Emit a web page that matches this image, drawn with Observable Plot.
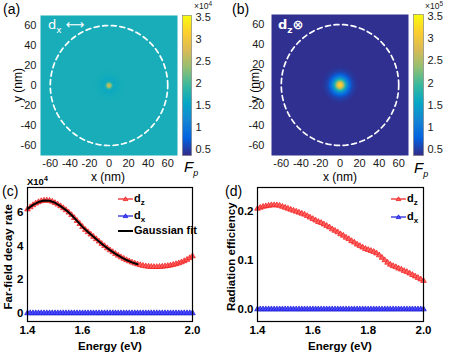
<!DOCTYPE html>
<html><head><meta charset="utf-8">
<script src="https://cdn.jsdelivr.net/npm/d3@7"></script>
<script src="https://cdn.jsdelivr.net/npm/@observablehq/plot@0.6"></script>
<style>
body{margin:0;background:#fff;}
#fig{position:relative;width:449px;height:354px;overflow:hidden;font-family:"Liberation Sans",Arial,sans-serif;color:#000;}
#fig svg{position:absolute;overflow:visible;}
.t{position:absolute;white-space:nowrap;line-height:1;}
.b{font-weight:bold;}
sub,sup{line-height:0;}
</style></head><body><div id="fig"></div>
<script>
// ---------- data ----------
// (a),(b) radial profiles of Purcell factor Fp read from the maps (radius in nm)
const profARadius = [0, 1.5, 3, 4, 6, 9, 12, 15, 70];
const profAValue  = [2.75, 2.6, 2.0, 1.65, 1.6, 1.65, 1.68, 1.7, 1.7];      // x10^4
const profBRadius = [0, 2, 4, 6, 8, 10, 12, 14, 17, 20, 70];
const profBValue  = [3.35, 3.05, 2.35, 1.6, 1.1, 0.8, 0.6, 0.5, 0.43, 0.4, 0.4]; // x10^5
const dashedRadius = 60;
const mapTicks = [-60, -40, -20, 0, 20, 40, 60];
const cbTicks = [0.5, 1, 1.5, 2, 2.5, 3, 3.5];
const cbDomain = [0.36, 3.55];

// (c),(d) spectra
const energy = [1.40,1.41,1.42,1.43,1.44,1.45,1.46,1.47,1.48,1.49,1.50,1.51,1.52,1.53,1.54,1.55,1.56,1.57,1.58,1.59,1.60,1.61,1.62,1.63,1.64,1.65,1.66,1.67,1.68,1.69,1.70,1.71,1.72,1.73,1.74,1.75,1.76,1.77,1.78,1.79,1.80,1.81,1.82,1.83,1.84,1.85,1.86,1.87,1.88,1.89,1.90,1.91,1.92,1.93,1.94,1.95,1.96,1.97,1.98,1.99,2.00];
const dzRate = [6.20,6.33,6.45,6.55,6.63,6.69,6.72,6.73,6.71,6.66,6.58,6.49,6.39,6.27,6.15,6.01,5.86,5.69,5.51,5.33,5.15,4.98,4.84,4.70,4.56,4.42,4.28,4.14,4.01,3.88,3.76,3.65,3.54,3.44,3.34,3.25,3.17,3.10,3.03,2.97,2.92,2.87,2.83,2.80,2.78,2.77,2.76,2.76,2.77,2.78,2.80,2.82,2.85,2.89,2.93,2.98,3.04,3.11,3.19,3.29,3.40]; // x10^4
const dxRate = [0,0,0,0,0,0,0,0,0,0,0,0,0,0,0,0,0,0,0,0,0,0,0,0,0,0,0,0,0,0,0,0,0,0,0,0,0,0,0,0,0,0,0,0,0,0,0,0,0,0,0,0,0,0,0,0,0,0,0,0,0];
const fitEnergy = [1.40,1.42,1.44,1.46,1.48,1.50,1.52,1.54,1.56,1.58,1.60,1.62,1.64,1.66,1.68,1.70,1.72,1.74,1.76,1.78,1.80];
const fitRate = [6.22,6.46,6.63,6.72,6.71,6.59,6.39,6.15,5.86,5.51,5.15,4.84,4.56,4.28,4.01,3.76,3.54,3.34,3.17,3.03,2.92];
const dzEff = [0.205,0.207,0.209,0.210,0.211,0.212,0.212,0.212,0.211,0.209,0.207,0.205,0.203,0.201,0.199,0.197,0.195,0.193,0.190,0.187,0.184,0.181,0.178,0.176,0.173,0.170,0.167,0.163,0.160,0.157,0.153,0.150,0.146,0.143,0.139,0.136,0.132,0.129,0.126,0.123,0.121,0.119,0.117,0.114,0.110,0.105,0.100,0.095,0.091,0.088,0.086,0.083,0.081,0.078,0.076,0.073,0.070,0.067,0.064,0.061,0.058];
const dxEff = [0,0,0,0,0,0,0,0,0,0,0,0,0,0,0,0,0,0,0,0,0,0,0,0,0,0,0,0,0,0,0,0,0,0,0,0,0,0,0,0,0,0,0,0,0,0,0,0,0,0,0,0,0,0,0,0,0,0,0,0,0];
const energyTicks = [1.4, 1.6, 1.8, 2.0];
const rateTicks = [0, 2, 4, 6];
const effTicks = [0.0, 0.1, 0.2];

// ---------- helpers ----------
const fig = document.getElementById("fig");
const parula = ["#352a87","#0363e1","#1485d4","#06a7c6","#38b99e","#92bf73","#d9ba56","#fcce2e","#f9fb0e"];
const parulaI = d3.piecewise(d3.interpolateRgb, parula);
const colorScale = {type: "linear", domain: cbDomain, interpolate: t => parulaI(t), clamp: true};
function put(el, left, top) { el.style.left = left + "px"; el.style.top = top + "px"; fig.appendChild(el); return el; }
function txt(html, left, top, style = "", cls = "t") {
  const d = document.createElement("div"); d.className = cls; d.innerHTML = html; d.style.cssText = style;
  return put(d, left, top);
}
function radial(R, V) {
  return (x, y) => {
    const r = Math.hypot(x, y);
    for (let i = 1; i < R.length; i++) if (r <= R[i]) { const t = (r - R[i-1]) / (R[i] - R[i-1]); return V[i-1] + t * (V[i] - V[i-1]); }
    return V[V.length - 1];
  };
}
const circle = d3.range(0, 361, 2).map(a => ({x: dashedRadius * Math.cos(a * Math.PI / 180), y: dashedRadius * Math.sin(a * Math.PI / 180)}));
const fmtInt = d => String(d);

function mapPlot(profR, profV, m, pad) {
  return Plot.plot({
    width: m.w, height: m.h, marginLeft: m.l, marginRight: m.r, marginTop: m.t, marginBottom: m.b,
    style: {fontSize: "11px", fontFamily: "Liberation Sans, Arial, sans-serif", color: "#1a1a1a", background: "transparent"},
    x: {domain: [-70, 70]}, y: {domain: [-70, 70]}, color: colorScale,
    marks: [
      Plot.raster({x1: -70, x2: 70, y1: -70, y2: 70, fill: radial(profR, profV), pixelSize: 0.5}),
      Plot.line(circle, {x: "x", y: "y", stroke: "white", strokeWidth: 1.7, strokeDasharray: "5,3.6"}),
      Plot.axisX({ticks: mapTicks, tickSize: 0, tickPadding: 4, tickFormat: fmtInt, label: null}),
      Plot.axisY({ticks: mapTicks, tickSize: 0, tickPadding: pad, tickFormat: fmtInt, label: null})
    ]
  });
}
function colorbar(m) {
  return Plot.plot({
    width: m.w, height: m.h, marginLeft: m.l, marginRight: m.r, marginTop: m.t, marginBottom: m.b,
    style: {fontSize: "11px", fontFamily: "Liberation Sans, Arial, sans-serif", color: "#1a1a1a", background: "transparent"},
    x: {domain: [0, 1], axis: null}, y: {domain: cbDomain}, color: colorScale,
    marks: [
      Plot.raster({x1: 0, x2: 1, y1: cbDomain[0], y2: cbDomain[1], fill: (x, y) => y, pixelSize: 1}),
      Plot.frame({stroke: "#777", strokeWidth: 0.6}),
      Plot.axisY({anchor: "right", ticks: cbTicks, tickSize: 0, tickPadding: 4, tickFormat: fmtInt, label: null})
    ]
  });
}

// ---------- (a) ----------
put(mapPlot(profARadius, profAValue, {w: 180, h: 180, l: 40, r: 3, t: 15, b: 25}, 4), 0, 0);
put(colorbar({w: 50, h: 180, l: 7, r: 34, t: 15, b: 25}), 175, 0);
// ---------- (b) ----------
put(mapPlot(profBRadius, profBValue, {w: 185, h: 180, l: 46, r: 2, t: 14, b: 25}, 7), 225, 0);
put(colorbar({w: 44, h: 180, l: 8, r: 26, t: 14, b: 25}), 405, 0);

// ---------- spectra ----------
function specPlot(m, yDomain, yTicks, yFmt, series, fit) {
  const marks = [];
  for (const s of series) {
    const data = energy.map((e, i) => ({e, v: s.values[i]}));
    marks.push(Plot.line(data, {x: "e", y: "v", stroke: s.stroke, strokeWidth: 1}));
    marks.push(Plot.dot(data, {x: "e", y: "v", symbol: "triangle", r: 2.1, fill: s.fill, stroke: s.stroke, strokeWidth: 0.7}));
  }
  if (fit) marks.push(Plot.line(fitEnergy.map((e, i) => ({e, v: fitRate[i]})), {x: "e", y: "v", stroke: "#000", strokeWidth: 2}));
  marks.push(Plot.frame({stroke: "#000", strokeWidth: 1.2}));
  marks.push(Plot.axisX({ticks: energyTicks, tickSize: 0, tickPadding: 4, tickFormat: d => d.toFixed(1), label: null, fontWeight: "bold"}));
  marks.push(Plot.axisY({ticks: yTicks, tickSize: 0, tickPadding: 4, tickFormat: yFmt, label: null, fontWeight: "bold"}));
  return Plot.plot({
    width: m.w, height: m.h, marginLeft: m.l, marginRight: m.r, marginTop: m.t, marginBottom: m.b,
    style: {fontSize: "11.5px", fontFamily: "Liberation Sans, Arial, sans-serif", color: "#000", background: "transparent"},
    x: {domain: [1.4, 2.0]}, y: {domain: yDomain},
    marks
  });
}
put(specPlot({w: 200, h: 179, l: 27, r: 8, t: 12, b: 33}, [-0.5, 7.5], rateTicks, fmtInt,
  [{values: dxRate, stroke: "#1a1ad8", fill: "#4a4aff"}, {values: dzRate, stroke: "#f01818", fill: "#ff6060"}], true), 0, 175);
put(specPlot({w: 224, h: 179, l: 32, r: 26, t: 12, b: 33}, [-0.025, 0.248], effTicks, d => d.toFixed(1),
  [{values: dxEff, stroke: "#1a1ad8", fill: "#4a4aff"}, {values: dzEff, stroke: "#f01818", fill: "#ff6060"}], false), 225, 175);

// ---------- text ----------
txt("(a)", 3, 2, "font-size:14px;");
txt("(b)", 232, 2, "font-size:14px;");
txt("(c)", 2, 184, "font-size:14px;");
txt("(d)", 225, 184, "font-size:14px;");
for (const [cx, cy] of [[18, 85], [255, 85]]) txt("y (nm)", cx - 20, cy - 6, "font-size:12px;width:40px;text-align:center;transform:rotate(-90deg);");
for (const cx of [108, 340]) txt("x (nm)", cx - 20, 171, "font-size:12px;width:40px;text-align:center;");
// colorbar multipliers
txt("×10", 194, 1.5, "font-size:8.5px;color:#222;");
txt("4", 208.5, 0.5, "font-size:6.5px;color:#222;");
txt("×10", 425, 1.5, "font-size:8.5px;color:#222;");
txt("5", 439.5, 0.5, "font-size:6.5px;color:#222;");
txt("<i>F</i><sub style='font-size:9px'><i>p</i></sub>", 184, 159, "font-size:15px;");
txt("<i>F</i><sub style='font-size:9px'><i>p</i></sub>", 414, 160, "font-size:15px;");
txt("d<sub style='font-size:9px'>x</sub> ⟷", 48, 18, "font-size:13px;color:#fff;font-family:'DejaVu Sans',sans-serif;");
txt("d<sub style='font-size:9px'>z</sub>⊗", 278, 18, "font-size:13px;color:#fff;font-family:'DejaVu Sans',sans-serif;font-weight:bold;");
// spectra labels
txt("Far-field decay rate", 8.5 - 60, 258 - 7, "font-size:11.5px;width:120px;text-align:center;transform:rotate(-90deg);", "t b");
txt("Radiation efficiency", 232 - 60, 258 - 7, "font-size:11.5px;width:120px;text-align:center;transform:rotate(-90deg);", "t b");
txt("Energy (eV)", 110 - 40, 341, "font-size:11.5px;width:80px;text-align:center;", "t b");
txt("Energy (eV)", 340 - 40, 341, "font-size:11.5px;width:80px;text-align:center;", "t b");
txt("X10<sup style='font-size:7px'>4</sup>", 27, 177, "font-size:9.5px;", "t b");
// legends
function legendRow(x, y, stroke, fill, html, marker = true) {
  const s = document.createElementNS("http://www.w3.org/2000/svg", "svg");
  s.setAttribute("width", 16); s.setAttribute("height", 8);
  s.innerHTML = `<line x1="0" y1="4" x2="15" y2="4" stroke="${stroke}" stroke-width="${marker ? 1.2 : 2}"/>` +
    (marker ? `<path d="M7.5,1.8 L9.8,5.6 L5.2,5.6 Z" fill="${fill}" stroke="${stroke}" stroke-width="0.8"/>` : "");
  s.style.position = "absolute"; put(s, x, y - 4);
  txt(html, x + 16, y - 6.5, "font-size:11px;", "t b");
}
legendRow(118, 199, "#f01818", "#ff6060", "d<sub style='font-size:8px'>z</sub>");
legendRow(118, 216, "#1a1ad8", "#4a4aff", "d<sub style='font-size:8px'>x</sub>");
legendRow(118, 231, "#000", "#000", "Gaussian fit", false);
legendRow(391, 199, "#f01818", "#ff6060", "d<sub style='font-size:8px'>z</sub>");
legendRow(391, 217, "#1a1ad8", "#4a4aff", "d<sub style='font-size:8px'>x</sub>");
</script></body></html>
